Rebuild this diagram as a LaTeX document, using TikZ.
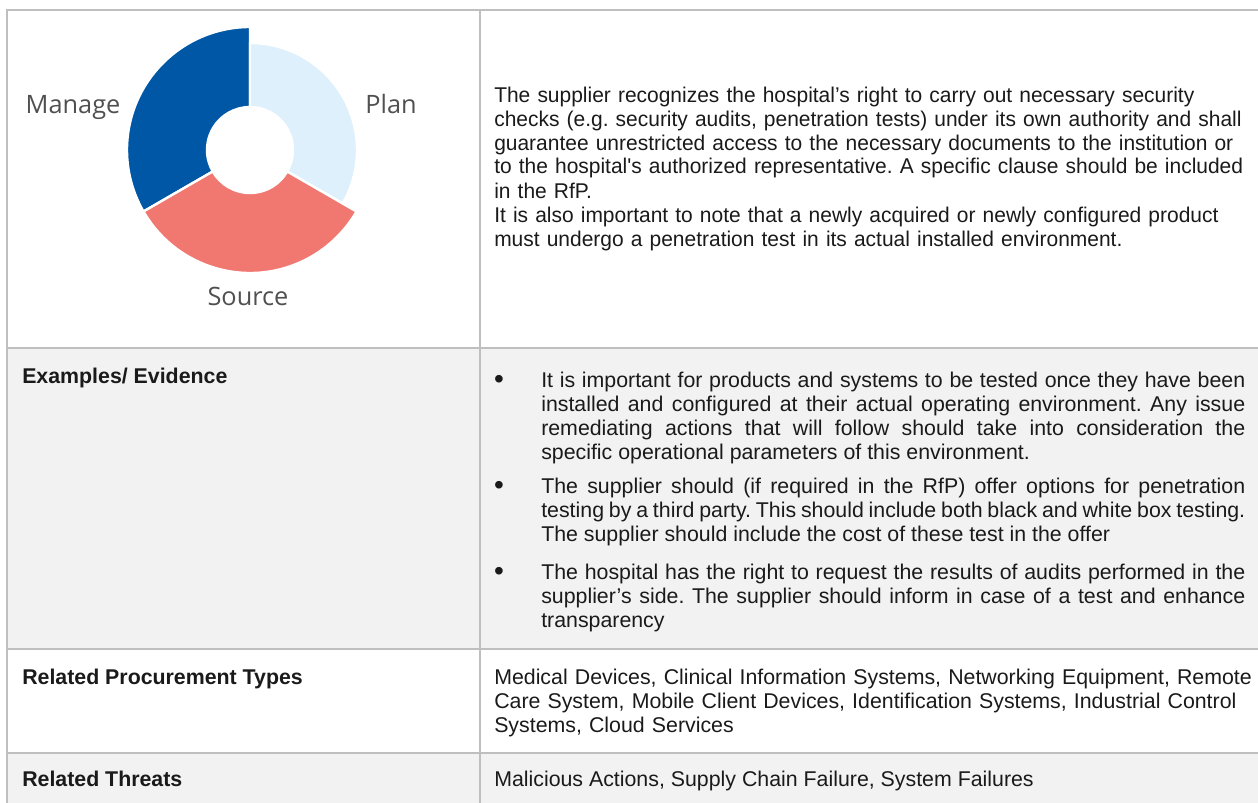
\documentclass[tikz,border=0pt]{standalone}
\usepackage{fontspec}
\setmainfont{Liberation Sans}
\newfontfamily\donutfont{Open Sans}
\newfontfamily\plainsans{Liberation Sans}
\newfontfamily\narrowsans{Liberation Sans}[FakeStretch=0.983]
\definecolor{rulegray}{HTML}{BFBFBF}
\definecolor{rowgray}{HTML}{F2F2F2}
\definecolor{txt}{HTML}{1A1A1A}
\definecolor{lbl}{HTML}{505050}
\definecolor{managec}{HTML}{0057A6}
\definecolor{planc}{HTML}{DDF0FB}
\definecolor{sourcec}{HTML}{F17870}
\frenchspacing
\begin{document}
\begin{tikzpicture}[x=0.75pt,y=-0.75pt,
  rule/.style={draw=rulegray, line width=1.5pt},
  body/.style={font=\fontsize{16}{18}\selectfont\frenchspacing, text=txt, inner sep=0pt, anchor=base west},
  ragged/.style={body, text width=660pt, align=left},
  para/.style={body, text width=528pt, align=justify},
  rowlabel/.style={font=\fontsize{16}{18}\selectfont\bfseries, text=txt, inner sep=0pt, anchor=base west},
  bul/.style={font=\fontsize{21}{18}\selectfont, text=txt, inner sep=0pt, anchor=base},
  seglabel/.style={font=\donutfont\fontsize{19}{20}\selectfont, text=lbl, inner sep=0pt, anchor=base},
  seg/.style={draw=white, line width=1.8pt}
]
\useasboundingbox (0,0) rectangle (1258,803);
% row backgrounds
\fill[rowgray] (7,348) rectangle (1258,649);
\fill[rowgray] (7,753) rectangle (1258,803);
% table rules
\draw[rule] (7,10) -- (1258,10);
\draw[rule] (7,348) -- (1258,348);
\draw[rule] (7,649) -- (1258,649);
\draw[rule] (7,753) -- (1258,753);
\draw[rule] (7,9) -- (7,803);
\draw[rule] (480,9) -- (480,803);
% donut
\begin{scope}[shift={(250,150)}, x=0.75pt, y=0.75pt]
\fill[managec, seg] (90:123) arc[start angle=90, end angle=210, radius=123] -- (210:43) arc[start angle=210, end angle=90, radius=43] -- cycle;
\fill[planc, seg] (-30:107) arc[start angle=-30, end angle=90, radius=107] -- (90:43) arc[start angle=90, end angle=-30, radius=43] -- cycle;
\fill[sourcec, seg] (210:123) arc[start angle=210, end angle=330, radius=123] -- (330:43) arc[start angle=330, end angle=210, radius=43] -- cycle;
\end{scope}
\node[seglabel] (manage) at (73,113) {Manage};
\node[seglabel] (plan) at (391,113) {Plan};
\node[seglabel] (source) at (248,305) {Source};
% row 1 text
\node[ragged, font=\narrowsans\fontsize{16}{18}\selectfont] (intro) at (494,102) {The supplier recognizes the hospital’s right to carry out necessary security\\
checks (e.g. security audits, penetration tests) under its own authority and shall\\
guarantee unrestricted access to the necessary documents to the institution or\\
to the hospital's authorized representative. A specific clause should be included\\
in the RfP.\\
It is also important to note that a newly acquired or newly configured product\\
must undergo a penetration test in its actual installed environment.};
% row 2
\node[rowlabel] (exlabel) at (22,383) {Examples/ Evidence};
\node[bul] (b1) at (499,388) {•};
\node[para] (p1) at (541,387) {It is important for products and systems to be tested once they have been \linebreak installed and configured at their actual operating environment. Any issue \linebreak remediating actions that will follow should take into consideration the \linebreak specific operational parameters of this environment.};
\node[bul] (b2) at (499,494) {•};
\node[para] (p2) at (541,493) {The supplier should (if required in the RfP) offer options for penetration \linebreak testing by a third party. This should include both black and white box testing. \linebreak The supplier should include the cost of these test in the offer};
\node[bul] (b3) at (499,580) {•};
\node[para] (p3) at (541,579) {The hospital has the right to request the results of audits performed in the \linebreak supplier’s side. The supplier should inform in case of a test and enhance \linebreak transparency};
% row 3
\node[rowlabel] (prlabel) at (22,684) {Related Procurement Types};
\node[ragged] (prtext) at (494,684) {Medical Devices, Clinical Information Systems, Networking Equipment, Remote\\
Care System, Mobile Client Devices, Identification Systems, Industrial Control\\
Systems, Cloud Services};
% row 4
\node[rowlabel] (thlabel) at (22,786) {Related Threats};
\node[body] (thtext) at (494,786) {Malicious Actions, Supply Chain Failure, System Failures};
\end{tikzpicture}
\end{document}
